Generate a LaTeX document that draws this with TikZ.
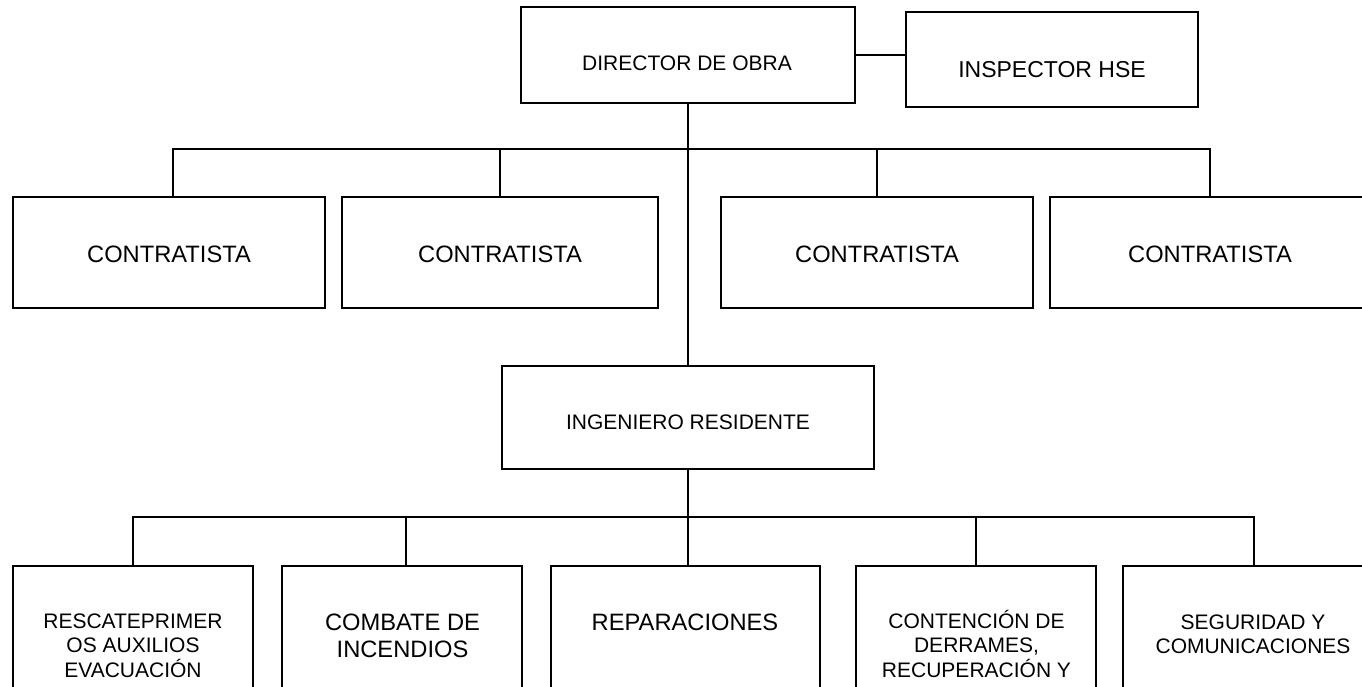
\documentclass[tikz,border=0pt]{standalone}
\usepackage{fontspec}
\setmainfont{Liberation Sans}
\newcommand\mlines[1]{\parbox[t]{300pt}{\centering #1}}
\begin{document}
\begin{tikzpicture}[x=1pt,y=1pt,
  box/.style={draw, line width=1.8pt, inner sep=0pt, outer sep=0pt, anchor=north west},
  conn/.style={line width=2pt},
  txt/.style={inner sep=0pt, anchor=base},
  fsmall/.style={font=\fontsize{21}{24.5}\selectfont},
  fbig/.style={font=\fontsize{23.7}{27}\selectfont}]
\useasboundingbox (0,0) rectangle (1362,-687);
\clip (0,0) rectangle (1362,-687);
% boxes
\node[box, minimum width=334pt, minimum height=96pt] (dir) at (521,-7) {};
\node[box, minimum width=292pt, minimum height=95pt] (insp) at (906,-12) {};
\node[box, minimum width=312pt, minimum height=111pt] (c1) at (13,-197) {};
\node[box, minimum width=316pt, minimum height=111pt] (c2) at (342,-197) {};
\node[box, minimum width=312pt, minimum height=111pt] (c3) at (721,-197) {};
\node[box, minimum width=320pt, minimum height=111pt] (c4) at (1050,-197) {};
\node[box, minimum width=372pt, minimum height=103pt] (ing) at (502,-366) {};
\node[box, minimum width=240pt, minimum height=160pt] (b1) at (13,-566) {};
\node[box, minimum width=240pt, minimum height=160pt] (b2) at (282,-566) {};
\node[box, minimum width=269pt, minimum height=160pt] (b3) at (551,-566) {};
\node[box, minimum width=240pt, minimum height=160pt] (b4) at (856,-566) {};
\node[box, minimum width=262pt, minimum height=160pt] (b5) at (1123,-566) {};
% texts
\node[txt, fsmall] (dirt) at (687,-71) {DIRECTOR DE OBRA};
\node[txt, font=\fontsize{23}{27}\selectfont] (inspt) at (1052,-78) {INSPECTOR HSE};
\node[txt, fbig] (c1t) at (169,-262) {CONTRATISTA};
\node[txt, fbig] (c2t) at (500,-262) {CONTRATISTA};
\node[txt, fbig] (c3t) at (877,-262) {CONTRATISTA};
\node[txt, fbig] (c4t) at (1210,-262) {CONTRATISTA};
\node[txt, fsmall] (ingt) at (688,-429) {INGENIERO RESIDENTE};
\node[txt, fsmall] (b1t) at (133,-628) {\mlines{RESCATEPRIMER\\OS AUXILIOS\\EVACUACIÓN}};
\node[txt, fbig] (b2t) at (402.5,-630) {\mlines{COMBATE DE\\INCENDIOS}};
\node[txt, fbig] (b3t) at (685,-630) {REPARACIONES};
\node[txt, fsmall] (b4t) at (976.5,-628) {\mlines{CONTENCIÓN DE\\DERRAMES,\\RECUPERACIÓN Y}};
\node[txt, fsmall] (b5t) at (1253,-629) {\mlines{SEGURIDAD Y\\COMUNICACIONES}};
% connectors
\coordinate (bus1) at (688,-149);
\coordinate (bus2) at (688,-517);
\draw[conn] (dir.east) -- (dir.east -| insp.west);
\draw[conn] (dir.south) -- (dir.south |- ing.north);
\draw[conn] ([xshift=4pt]c1.north) |- (bus1) -| (c4.north);
\draw[conn] (c2.north) -- (c2.north |- bus1);
\draw[conn] (c3.north) -- (c3.north |- bus1);
\draw[conn] (ing.south) -- (ing.south |- b3.north);
\draw[conn] (b1.north) |- (bus2) -| (b5.north);
\draw[conn] ([xshift=4pt]b2.north) -- ([xshift=4pt]b2.north |- bus2);
\draw[conn] (b4.north) -- (b4.north |- bus2);
\end{tikzpicture}
\end{document}
